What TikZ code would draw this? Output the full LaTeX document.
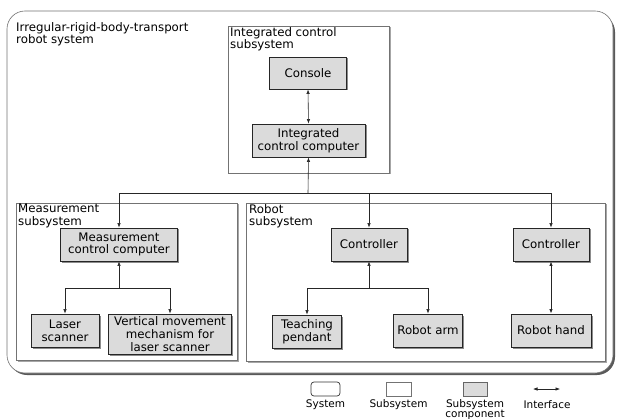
\documentclass[tikz,border=0pt]{standalone}
\usepackage{fontspec}
\setmainfont{DejaVu Sans}
\usetikzlibrary{shadows,arrows.meta}
\begin{document}
\begin{tikzpicture}[x=1pt,y=-1pt,
  font=\fontsize{11.8}{12.6}\selectfont,
  comp/.style={draw=black!85,line width=0.9pt,fill=black!14,align=center,inner sep=0pt,
    drop shadow={shadow xshift=1.5pt,shadow yshift=-1.5pt,fill=black!45,opacity=1}},
  subsys/.style={draw=black!55,line width=0.6pt,fill=white,
    drop shadow={shadow xshift=1.5pt,shadow yshift=-1.5pt,fill=black!35,opacity=1}},
  conn/.style={draw=black!85,line width=0.6pt},
  tip/.style={-{Latex[length=4.5pt,width=3.5pt]}},
  btip/.style={{Latex[length=4.5pt,width=3.5pt]}-{Latex[length=4.5pt,width=3.5pt]}},
  ttl/.style={anchor=north west,inner sep=0pt,align=left},
  lgd/.style={font=\fontsize{10.5}{10}\selectfont,inner sep=0pt,align=center}]
\useasboundingbox (0,0) rectangle (617,419);
% system
\fill[black!65,rounded corners=18pt] (9,14) rectangle (615,375);
\draw[black!55,fill=white,line width=0.6pt,rounded corners=18pt] (7,11) rectangle (613,373);
\node[ttl] (systitle) at (16,22) {Irregular-rigid-body-transport\\robot system};
% subsystems
\path[subsys] (228,26) rectangle (389,173);
\node[ttl] (ictitle) at (230,27) {Integrated control\\subsystem};
\path[subsys] (16,203) rectangle (237,360);
\node[ttl] (mstitle) at (18,204) {Measurement\\subsystem};
\path[subsys] (246,203) rectangle (605,361);
\node[ttl] (rstitle) at (249,204) {Robot\\subsystem};
% components
\node[comp,minimum width=77pt,minimum height=32pt] (console) at (308,73) {Console};
\node[comp,minimum width=113pt,minimum height=33pt] (icc) at (308.5,140.5) {Integrated\\control computer};
\node[comp,minimum width=117pt,minimum height=33pt] (mcc) at (119,244.5) {Measurement\\control computer};
\node[comp,minimum width=68pt,minimum height=33pt] (laser) at (65,330.5) {Laser\\scanner};
\node[comp,minimum width=123pt,minimum height=40pt] (vert) at (170,334) {Vertical movement\\mechanism for\\laser scanner};
\node[comp,minimum width=76pt,minimum height=33pt] (ctrlA) at (369,244.5) {Controller};
\node[comp,minimum width=76pt,minimum height=33pt] (ctrlB) at (551,244.5) {Controller};
\node[comp,minimum width=69pt,minimum height=33pt] (teach) at (307,331.5) {Teaching\\pendant};
\node[comp,minimum width=69pt,minimum height=33pt] (arm) at (428,330.5) {Robot arm};
\node[comp,minimum width=80pt,minimum height=33pt] (hand) at (551,330.5) {Robot hand};
% connectors
\coordinate (bus) at (308,193);
\coordinate (mj) at (119,288);
\coordinate (rj) at (369,288);
\draw[conn,btip] (console.south) -- (icc.north);
\draw[conn,tip] (bus) -- (icc.south);
\draw[conn,tip] (bus) -| (mcc.north);
\draw[conn,tip] (bus) -| (ctrlA.north);
\draw[conn,tip] (bus) -| (ctrlB.north);
\draw[conn,tip] (mj) -- (mcc.south);
\draw[conn,tip] (mj) -| (laser.north);
\draw[conn,tip] (mj) -| (vert.north);
\draw[conn,tip] (rj) -- (ctrlA.south);
\draw[conn,tip] (rj) -| (teach.north);
\draw[conn,tip] (rj) -| (arm.north);
\draw[conn,btip,line width=1pt] (ctrlB.south) -- (hand.north);
% legend
\draw[black!80,line width=0.7pt,rounded corners=3pt] (311,382) rectangle (340,396);
\node[lgd] (l1) at (325.5,405) {System};
\draw[black!55,line width=0.6pt,fill=white] (386,382) rectangle (411,396);
\node[lgd] (l2) at (398.5,405) {Subsystem};
\draw[black!60,line width=0.6pt,fill=black!14] (463,382) rectangle (487,396);
\node[lgd,anchor=north] (l3) at (475,399.5) {Subsystem\\component};
\coordinate (ia) at (533,389);
\coordinate (ib) at (560,389);
\draw[conn,btip] (ia) -- (ib);
\node[lgd] (l4) at (547,405) {Interface};
\end{tikzpicture}
\end{document}
